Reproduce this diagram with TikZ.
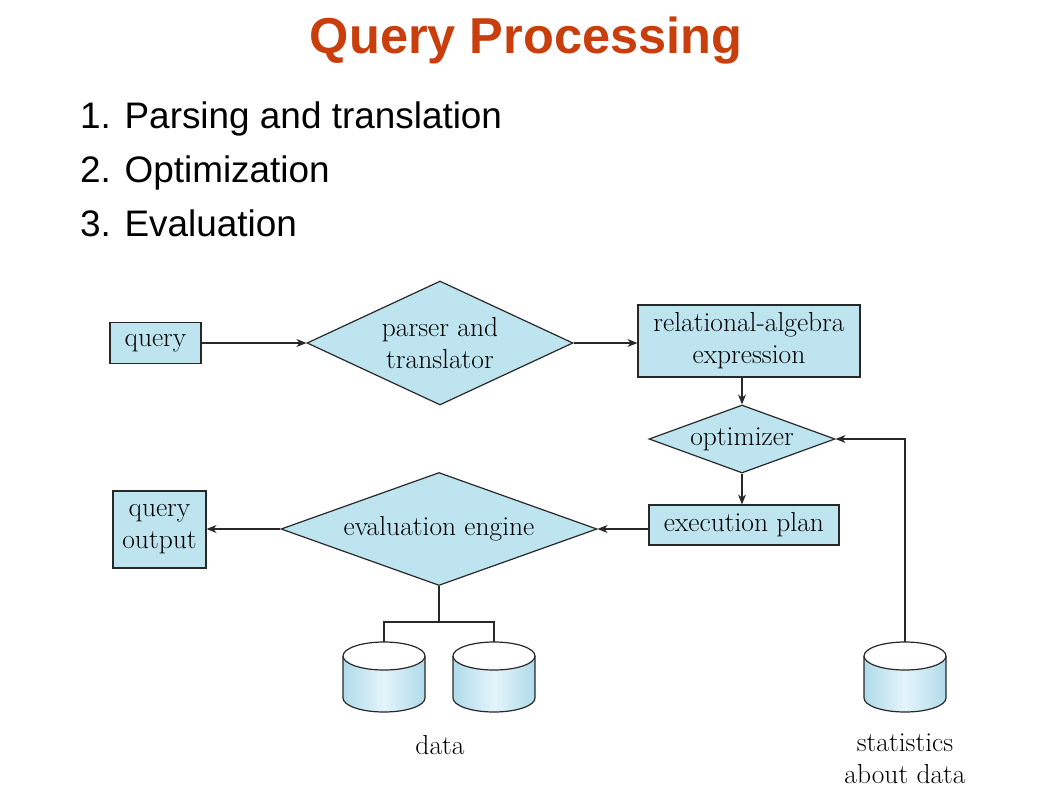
\documentclass[tikz,border=0pt]{standalone}
\usepackage{fontspec}
\newfontfamily\slidesans{Liberation Sans}
\usetikzlibrary{shapes.geometric,arrows.meta}

\definecolor{titlered}{RGB}{200,62,12}
\definecolor{boxfill}{RGB}{190,228,240}
\definecolor{inkgray}{RGB}{40,40,40}
\definecolor{drumside}{RGB}{176,219,234}
\definecolor{drummid}{RGB}{228,244,250}

\tikzset{
  % disk drum: origin is the top point of the upper ellipse
  drum/.pic={
    \shade[left color=drumside, right color=drumside, middle color=drummid]
      (-41,-14) -- (-41,-56) arc[start angle=180, end angle=360, x radius=41, y radius=14]
      -- (41,-14) -- cycle;
    \draw[inkgray, line width=1.2pt]
      (-41,-14) -- (-41,-56) arc[start angle=180, end angle=360, x radius=41, y radius=14]
      -- (41,-14);
    \draw[inkgray, line width=1.2pt, fill=white] (0,-14) ellipse[x radius=41, y radius=14];
  }
}

\begin{document}
\begin{tikzpicture}[x=1pt, y=1pt,
  every node/.style={inner sep=0pt},
  lbl/.style={font=\fontsize{27.5}{32}\selectfont, align=center},
  box/.style={lbl, rectangle, draw=inkgray, line width=1.2pt, fill=boxfill},
  dia/.style={lbl, diamond, draw=inkgray, line width=1.2pt, fill=boxfill},
  flow/.style={draw=inkgray, line width=1.2pt, -{Stealth[length=10pt, width=8pt]}},
  wire/.style={draw=inkgray, line width=1.2pt},
  heading/.style={font=\slidesans\bfseries\fontsize{50.5}{60}\selectfont, text=titlered},
  stepitem/.style={anchor=base west, font=\slidesans\fontsize{36.9}{44}\selectfont, text=black}
]
\fill[white] (0,0) rectangle (1043,-792);
\useasboundingbox (0,0) rectangle (1043,-792);

% heading and list of phases
\node[heading, anchor=base] (title) at (526,-53) {Query Processing};
\node[stepitem] (s1) at (80,-128) {1. Parsing and translation};
\node[stepitem] (s2) at (80,-182) {2. Optimization};
\node[stepitem] (s3) at (80,-236) {3. Evaluation};

% flow nodes
\node[box, minimum width=91pt, minimum height=41pt] (query) at (155.5,-343) {query};
\node[dia, aspect=2.15, minimum width=266pt, minimum height=124pt] (parser) at (440,-343) {parser and\\translator};
\node[box, minimum width=222pt, minimum height=72pt] (rel) at (749,-341) {relational-algebra\\expression};
\node[dia, aspect=2.74, minimum width=186pt, minimum height=68pt] (opt) at (742,-439) {optimizer};
\node[box, minimum width=190pt, minimum height=40pt] (plan) at (744,-525) {execution plan};
\node[dia, aspect=2.8, minimum width=316pt, minimum height=113pt] (eval) at (439,-529) {evaluation engine};
\node[box, minimum width=93pt, minimum height=77pt] (out) at (159.5,-529.5) {query\\output};

% storage
\pic at (384,-642) {drum};
\pic at (494,-642) {drum};
\pic at (905,-642) {drum};
\coordinate (d1) at (384,-642);
\coordinate (d2) at (494,-642);
\coordinate (st) at (905,-642);
\coordinate (split) at (439,-622);
\node[lbl] (datalbl) at (440,-745) {data};
\node[lbl] (statlbl) at (905,-759) {statistics\\about data};

% connectors
\draw[flow] (query.east) -- (parser.west);
\draw[flow] (parser.east) -- (parser.east -| rel.west);
\draw[flow] (rel.south -| opt.north) -- (opt.north);
\draw[flow] (opt.south) -- (opt.south |- plan.north);
\draw[flow] (plan.west |- eval.east) -- (eval.east);
\draw[flow] (eval.west) -- (eval.west -| out.east);
\draw[flow] (st) |- (opt.east);
\draw[wire] (eval.south) -- (split);
\draw[wire] (d1) |- (split) -| (d2);
\end{tikzpicture}
\end{document}
